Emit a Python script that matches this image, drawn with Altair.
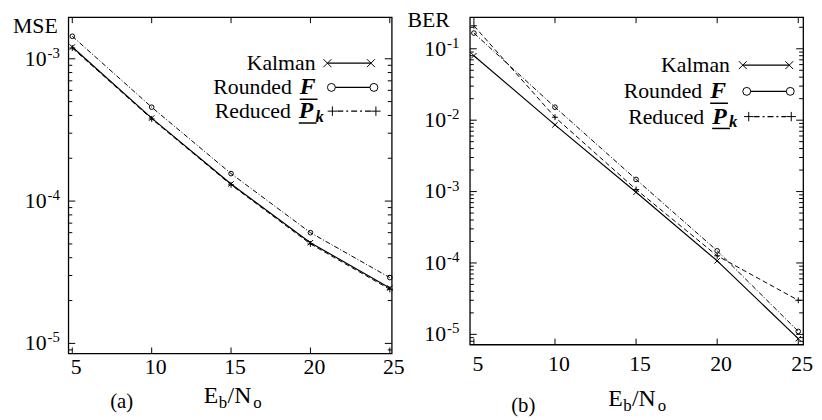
import altair as alt
import pandas as pd

FONT = "Liberation Serif"

# ---------------- data ----------------
X_VALUES = [5, 10, 15, 20, 25]

MSE_KALMAN = [1.21e-3, 3.83e-4, 1.32e-4, 5.1e-5, 2.45e-5]
MSE_ROUNDED = [1.44e-3, 4.57e-4, 1.56e-4, 6.0e-5, 2.9e-5]
MSE_REDUCED = [1.19e-3, 3.78e-4, 1.30e-4, 5.0e-5, 2.4e-5]

BER_KALMAN = [0.08, 8.6e-3, 9.8e-4, 1.07e-4, 8.7e-6]
BER_ROUNDED = [0.166, 0.0152, 1.48e-3, 1.48e-4, 1.1e-5]
BER_REDUCED = [0.21, 0.011, 1.07e-3, 1.26e-4, 3.0e-5]

X_TICKS = [5, 10, 15, 20, 25]
X_TICK_LABELS = ["5", "10", "15", "20", "25"]
MSE_DECADES = [-3, -4, -5]
BER_DECADES = [-1, -2, -3, -4, -5]

SERIES_NAMES = ["Kalman", "Rounded", "Reduced"]

# ---------------- styles ----------------
CROSS_X = "M-1,-1L1,1M-1,1L1,-1"
PLUS = "M-1,0L1,0M0,-1L0,1"
STYLES = {
    "Kalman": dict(dash=None, width=1.2, shape=CROSS_X, size=30),
    "Rounded": dict(dash=[5, 2, 1, 2], width=1.0, shape="circle", size=22),
    "Reduced": dict(dash=[5, 3], width=1.0, shape=PLUS, size=36),
}
LEG_STYLE = {
    "Kalman": dict(dash=None, shape=CROSS_X, size=64),
    "Rounded": dict(dash=None, shape="circle", size=64),
    "Reduced": dict(dash=[6, 3, 2, 3], shape=PLUS, size=90),
}

ONE = pd.DataFrame({"k": [0]})


def txt(x, y, s, size=22, align="left", baseline="middle", style="normal",
        weight="normal", dy=0):
    return alt.Chart(ONE).mark_text(
        text=s, font=FONT, fontSize=size, align=align, baseline=baseline,
        fontStyle=style, fontWeight=weight, color="black", dy=dy
    ).encode(x=alt.value(x), y=alt.value(y))


def hrule(x1, x2, y, dash=None, width=1.0):
    kw = dict(color="black", strokeWidth=width)
    if dash:
        kw["strokeDash"] = dash
    return alt.Chart(ONE).mark_rule(**kw).encode(
        x=alt.value(x1), x2=alt.value(x2), y=alt.value(y))


def sym(x, y, shape, size):
    return alt.Chart(ONE).mark_point(
        shape=shape, size=size, filled=False, color="black", strokeWidth=1,
        opacity=1).encode(x=alt.value(x), y=alt.value(y))


def panel(W, H, xdom, ydom, series, decades, leg, ylabel, ylabel_pos,
          lab10_x, xt_pos, cap, cap_pos, xlab_y):
    xs = alt.Scale(domain=xdom, nice=False, zero=False)
    ys = alt.Scale(type="log", domain=ydom, nice=False)
    layers = []

    # data lines + markers
    for name, vals in zip(SERIES_NAMES, series):
        st = STYLES[name]
        df = pd.DataFrame({"x": X_VALUES, "y": vals})
        kw = dict(color="black", strokeWidth=st["width"])
        if st["dash"]:
            kw["strokeDash"] = st["dash"]
        layers.append(alt.Chart(df).mark_line(**kw).encode(
            x=alt.X("x:Q", scale=xs, axis=None),
            y=alt.Y("y:Q", scale=ys, axis=None)))
        layers.append(alt.Chart(df).mark_point(
            shape=st["shape"], size=st["size"], filled=False, color="black",
            strokeWidth=1, opacity=1).encode(
            x=alt.X("x:Q", scale=xs, axis=None),
            y=alt.Y("y:Q", scale=ys, axis=None)))

    # inward ticks on all four sides
    lo, hi = ydom
    major = [10.0 ** e for e in decades]
    minor = [m * 10.0 ** e for e in range(min(decades) - 1, max(decades) + 1)
             for m in range(2, 10) if lo <= m * 10.0 ** e <= hi]
    for vals, ln in ((major, 7), (minor, 4)):
        d = pd.DataFrame({"v": vals})
        for x1, x2 in ((0, ln), (W - ln, W)):
            layers.append(alt.Chart(d).mark_rule(color="black", strokeWidth=1).encode(
                y=alt.Y("v:Q", scale=ys, axis=None),
                x=alt.value(x1), x2=alt.value(x2)))
    dxt = pd.DataFrame({"v": X_TICKS, "lab": X_TICK_LABELS})
    for y1, y2 in ((H, H - 6), (0, 6)):
        layers.append(alt.Chart(dxt).mark_rule(color="black", strokeWidth=1).encode(
            x=alt.X("v:Q", scale=xs, axis=None),
            y=alt.value(y1), y2=alt.value(y2)))

    # x tick labels
    layers.append(alt.Chart(dxt).mark_text(
        font=FONT, fontSize=22, align="center", baseline="middle",
        color="black", dx=4).encode(
        x=alt.X("v:Q", scale=xs, axis=None), y=alt.value(xlab_y),
        text="lab:N"))

    # y tick labels 10^k
    dl = pd.DataFrame({"v": major, "base": ["10"] * len(major),
                       "exp": [str(e) for e in decades]})
    layers.append(alt.Chart(dl).mark_text(
        font=FONT, fontSize=22, align="right", baseline="middle", color="black"
    ).encode(y=alt.Y("v:Q", scale=ys, axis=None), x=alt.value(lab10_x),
             text="base:N"))
    layers.append(alt.Chart(dl).mark_text(
        font=FONT, fontSize=15, align="left", baseline="middle", color="black",
        dy=-6).encode(y=alt.Y("v:Q", scale=ys, axis=None),
                      x=alt.value(lab10_x + 1), text="exp:N"))

    # y label (MSE / BER)
    layers.append(txt(ylabel_pos[0], ylabel_pos[1], ylabel))

    # x title E_b/N_o
    x0, yb = xt_pos
    layers.append(txt(x0, yb, "E", size=24, baseline="alphabetic"))
    layers.append(txt(x0 + 15, yb + 5, "b", size=17, baseline="alphabetic"))
    layers.append(txt(x0 + 24, yb, "/N", size=24, baseline="alphabetic"))
    layers.append(txt(x0 + 50, yb + 5, "o", size=17, baseline="alphabetic"))

    # caption
    layers.append(txt(cap_pos[0], cap_pos[1], cap, size=21, align="center"))

    # legend
    rows = leg["rows"]
    # Kalman
    y = rows[0]
    layers.append(txt(leg["kal_end"], y, "Kalman", align="right"))
    m1, m2 = leg["kal_m"]
    layers.append(hrule(m1, m2, y, width=1.2))
    layers.append(sym(m1, y, LEG_STYLE["Kalman"]["shape"], LEG_STYLE["Kalman"]["size"]))
    layers.append(sym(m2, y, LEG_STYLE["Kalman"]["shape"], LEG_STYLE["Kalman"]["size"]))
    # Rounded F
    y = rows[1]
    fx = leg["F_x"]
    layers.append(txt(fx - 8, y, "Rounded", align="right"))
    layers.append(txt(fx, y, "F", size=24, style="italic", weight="bold"))
    layers.append(hrule(fx, fx + 18, y + 12, width=1.5))
    m1, m2 = leg["rnd_m"]
    layers.append(hrule(m1 + 4, m2 - 4, y, width=1.2))
    layers.append(sym(m1, y, "circle", LEG_STYLE["Rounded"]["size"]))
    layers.append(sym(m2, y, "circle", LEG_STYLE["Rounded"]["size"]))
    # Reduced P_k
    y = rows[2]
    px = leg["P_x"]
    layers.append(txt(px - 8, y, "Reduced", align="right"))
    layers.append(txt(px, y, "P", size=24, style="italic", weight="bold"))
    layers.append(txt(px + 17, y + 6, "k", size=17, style="italic", weight="bold"))
    layers.append(hrule(px, px + 18, y + 12, width=1.5))
    m1, m2 = leg["red_m"]
    layers.append(hrule(m1 + 5, m2 - 5, y, dash=LEG_STYLE["Reduced"]["dash"], width=1.2))
    layers.append(sym(m1, y, PLUS, LEG_STYLE["Reduced"]["size"]))
    layers.append(sym(m2, y, PLUS, LEG_STYLE["Reduced"]["size"]))

    return alt.layer(*layers).properties(width=W, height=H)


left = panel(
    W=327, H=340, xdom=[4.75, 25.12], ydom=[8.5e-6, 1.96e-3],
    series=[MSE_KALMAN, MSE_ROUNDED, MSE_REDUCED], decades=MSE_DECADES,
    leg=dict(rows=[46.5, 71, 95], kal_end=250, kal_m=[262, 306],
             F_x=234, rnd_m=[266, 309], P_x=233, red_m=[267, 311]),
    ylabel="MSE", ylabel_pos=(-56, 9), lab10_x=-22,
    xt_pos=(137, 390), cap="(a)", cap_pos=(54, 389), xlab_y=354,
)

right = panel(
    W=337, H=331, xdom=[4.75, 25.3], ydom=[7.2e-6, 0.277],
    series=[BER_KALMAN, BER_ROUNDED, BER_REDUCED], decades=BER_DECADES,
    leg=dict(rows=[48.5, 75, 100.5], kal_end=263, kal_m=[276, 323],
             F_x=243, rnd_m=[280, 324], P_x=245, red_m=[282, 325]),
    ylabel="BER", ylabel_pos=(-63, 3), lab10_x=-24,
    xt_pos=(140, 393), cap="(b)", cap_pos=(54, 393), xlab_y=351,
)

chart = alt.hconcat(left, right, spacing=79, bounds="flush").properties(
    padding={"left": 4, "top": -2, "right": 0, "bottom": 0},
    background="white",
).configure_view(stroke="black", strokeWidth=1.3)

chart.save("out.html", embed_options={"renderer": "svg", "actions": False})
